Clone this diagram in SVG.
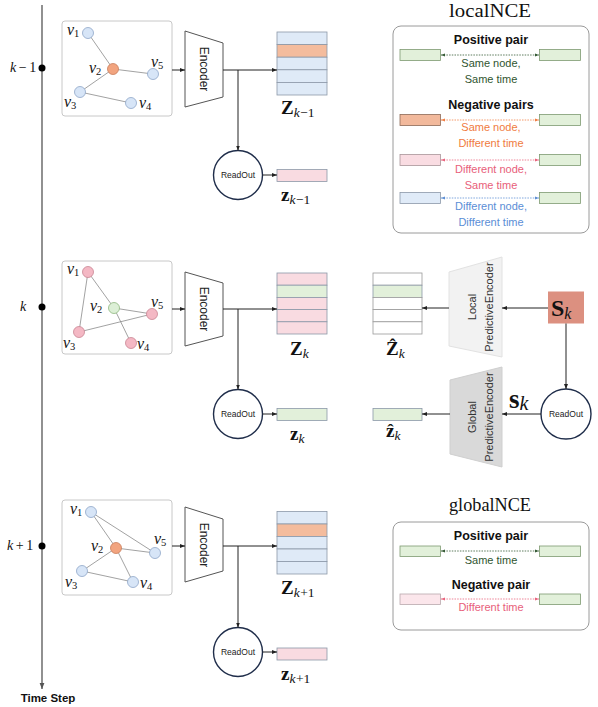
<svg xmlns="http://www.w3.org/2000/svg" width="598" height="707" viewBox="0 0 598 707">
<style>
.bg{fill:#fff}
.gbox{fill:#fff;stroke:#c8c8c8;stroke-width:1}
.edge{stroke:#8a8a8a;stroke-width:0.8;fill:none}
.nb{fill:#d7e5f7;stroke:#8ea6c8;stroke-width:0.8}
.no{fill:#f2a47f;stroke:#c97e5c;stroke-width:0.8}
.np{fill:#f4b8c4;stroke:#c98593;stroke-width:0.8}
.ng{fill:#dcefd6;stroke:#8fb77f;stroke-width:0.8}
.vl{font-family:"Liberation Serif",serif;font-style:italic;font-size:16px;fill:#111}
.vs{font-family:"Liberation Serif",serif;font-size:10.5px;fill:#111}
.enc{fill:#fff;stroke:#555;stroke-width:1}
.sans{font-family:"Liberation Sans",Arial,sans-serif}
.rb{fill:#dfeaf7;stroke:#8c98a8;stroke-width:0.8}
.ro{fill:#f4bc9d;stroke:#8c98a8;stroke-width:0.8}
.rp{fill:#f9dbe1;stroke:#8c98a8;stroke-width:0.8}
.rg{fill:#e2f0da;stroke:#8c98a8;stroke-width:0.8}
.rw{fill:#fff;stroke:#9a9a9a;stroke-width:0.8}
.conn{stroke:#222;stroke-width:1;fill:none}
.ro-c{fill:#fff;stroke:#1f2d4a;stroke-width:1.4}
.mb{font-family:"Liberation Serif",serif;font-weight:bold;fill:#111}
.mi{font-family:"Liberation Serif",serif;font-style:italic;fill:#111}
.ttl{font-family:"Liberation Serif",serif;font-size:18px;fill:#111}
.pb{fill:#e2f0da;stroke:#7e9a70;stroke-width:0.8}
.po{fill:#f2b99c;stroke:#8d6a57;stroke-width:0.8}
.pp{fill:#f9dce2;stroke:#a8959a;stroke-width:0.8}
.pl{fill:#fbe6eb;stroke:#b9a9ad;stroke-width:0.8}
.pbl{fill:#e0ebf8;stroke:#8c98a8;stroke-width:0.8}
.hd{font-family:"Liberation Sans",Arial,sans-serif;font-weight:bold;font-size:12.5px;fill:#111;text-anchor:middle}
.lb{font-family:"Liberation Sans",Arial,sans-serif;font-size:11px;text-anchor:middle}
</style>
<defs>
<marker id="ah" viewBox="0 0 10 10" refX="10" refY="5" markerWidth="5" markerHeight="5" orient="auto-start-reverse"><path d="M0,1 L10,5 L0,9 z" fill="#222"/></marker>
<marker id="ahax" viewBox="0 0 10 10" refX="10" refY="5" markerWidth="5" markerHeight="5" orient="auto"><path d="M0,1 L10,5 L0,9 z" fill="#555"/></marker>
<marker id="mg" viewBox="0 0 10 10" refX="10" refY="5" markerWidth="5" markerHeight="5" orient="auto-start-reverse"><path d="M0,1 L10,5 L0,9 z" fill="#355a35"/></marker>
<marker id="mo" viewBox="0 0 10 10" refX="10" refY="5" markerWidth="5" markerHeight="5" orient="auto-start-reverse"><path d="M0,1 L10,5 L0,9 z" fill="#f07d42"/></marker>
<marker id="mp" viewBox="0 0 10 10" refX="10" refY="5" markerWidth="5" markerHeight="5" orient="auto-start-reverse"><path d="M0,1 L10,5 L0,9 z" fill="#e8637c"/></marker>
<marker id="mbl" viewBox="0 0 10 10" refX="10" refY="5" markerWidth="5" markerHeight="5" orient="auto-start-reverse"><path d="M0,1 L10,5 L0,9 z" fill="#5d8fd4"/></marker>
</defs>
<rect class="bg" x="0" y="0" width="598" height="707"/>

<!-- time axis -->
<g id="time-axis">
<line x1="42" y1="5" x2="42" y2="689" stroke="#555" stroke-width="1.3" marker-end="url(#ahax)"/>
<circle cx="42" cy="68" r="3.5" fill="#000"/>
<circle cx="42" cy="307" r="3.5" fill="#000"/>
<circle cx="42" cy="546" r="3.5" fill="#000"/>
<text class="mi" x="10" y="72" font-size="14">k<tspan font-style="normal" dx="2.5">−</tspan><tspan font-style="normal" dx="2.5">1</tspan></text>
<text class="mi" x="20" y="311" font-size="14">k</text>
<text class="mi" x="7" y="550" font-size="14">k<tspan font-style="normal" dx="2.5">+</tspan><tspan font-style="normal" dx="2.5">1</tspan></text>
<text class="sans" x="48" y="702" font-size="11.5" font-weight="bold" text-anchor="middle" fill="#111">Time Step</text>
</g>

<!-- graph k-1 -->
<g id="graph-top">
<rect class="gbox" x="62" y="21" width="110" height="95" rx="3"/>
<line class="edge" x1="88" y1="33" x2="113" y2="69"/>
<line class="edge" x1="113" y1="69" x2="153" y2="74"/>
<line class="edge" x1="113" y1="69" x2="80" y2="92"/>
<line class="edge" x1="80" y1="92" x2="131" y2="103"/>
<circle class="nb" cx="88" cy="33" r="5.5"/>
<circle class="no" cx="113" cy="69" r="5.5"/>
<circle class="nb" cx="153" cy="74" r="5.5"/>
<circle class="nb" cx="80" cy="92" r="5.5"/>
<circle class="nb" cx="131" cy="103" r="5.5"/>
<text class="vl" x="67" y="35">v<tspan class="vs" font-style="normal" dy="2">1</tspan></text>
<text class="vl" x="89" y="73">v<tspan class="vs" font-style="normal" dy="2">2</tspan></text>
<text class="vl" x="151" y="67">v<tspan class="vs" font-style="normal" dy="2">5</tspan></text>
<text class="vl" x="64" y="107">v<tspan class="vs" font-style="normal" dy="2">3</tspan></text>
<text class="vl" x="139" y="108">v<tspan class="vs" font-style="normal" dy="2">4</tspan></text>
</g>

<!-- graph k -->
<g id="graph-mid">
<rect class="gbox" x="62" y="261" width="110" height="93" rx="3"/>
<line class="edge" x1="88" y1="272" x2="79" y2="332"/>
<line class="edge" x1="88" y1="272" x2="114" y2="308"/>
<line class="edge" x1="114" y1="308" x2="152" y2="314"/>
<line class="edge" x1="114" y1="308" x2="131" y2="343"/>
<line class="edge" x1="79" y1="332" x2="152" y2="314"/>
<circle class="np" cx="88" cy="272" r="5.5"/>
<circle class="ng" cx="114" cy="308" r="5.5"/>
<circle class="np" cx="152" cy="314" r="5.5"/>
<circle class="np" cx="79" cy="332" r="5.5"/>
<circle class="np" cx="131" cy="343" r="5.5"/>
<text class="vl" x="67" y="274">v<tspan class="vs" font-style="normal" dy="2">1</tspan></text>
<text class="vl" x="90" y="311">v<tspan class="vs" font-style="normal" dy="2">2</tspan></text>
<text class="vl" x="151" y="307">v<tspan class="vs" font-style="normal" dy="2">5</tspan></text>
<text class="vl" x="63" y="348">v<tspan class="vs" font-style="normal" dy="2">3</tspan></text>
<text class="vl" x="137" y="349">v<tspan class="vs" font-style="normal" dy="2">4</tspan></text>
</g>

<!-- graph k+1 -->
<g id="graph-bot">
<rect class="gbox" x="62" y="500" width="110" height="95" rx="3"/>
<line class="edge" x1="91" y1="512" x2="116" y2="548"/>
<line class="edge" x1="91" y1="512" x2="155" y2="553"/>
<line class="edge" x1="116" y1="548" x2="155" y2="553"/>
<line class="edge" x1="116" y1="548" x2="82" y2="571"/>
<line class="edge" x1="116" y1="548" x2="133" y2="582"/>
<line class="edge" x1="82" y1="571" x2="133" y2="582"/>
<circle class="nb" cx="91" cy="512" r="5.5"/>
<circle class="no" cx="116" cy="548" r="5.5"/>
<circle class="nb" cx="155" cy="553" r="5.5"/>
<circle class="nb" cx="82" cy="571" r="5.5"/>
<circle class="nb" cx="133" cy="582" r="5.5"/>
<text class="vl" x="70" y="514">v<tspan class="vs" font-style="normal" dy="2">1</tspan></text>
<text class="vl" x="91" y="551">v<tspan class="vs" font-style="normal" dy="2">2</tspan></text>
<text class="vl" x="154" y="544">v<tspan class="vs" font-style="normal" dy="2">5</tspan></text>
<text class="vl" x="65" y="587">v<tspan class="vs" font-style="normal" dy="2">3</tspan></text>
<text class="vl" x="140" y="588">v<tspan class="vs" font-style="normal" dy="2">4</tspan></text>
</g>

<!-- encoders -->
<g id="encoder-top">
<polygon class="enc" points="185,31 223,43 223,97 185,107"/>
<text class="sans" transform="translate(200,69) rotate(90)" font-size="12" text-anchor="middle" fill="#222">Encoder</text>
</g>
<g id="encoder-mid">
<polygon class="enc" points="185,272 223,283 223,336 185,346"/>
<text class="sans" transform="translate(200,309) rotate(90)" font-size="12" text-anchor="middle" fill="#222">Encoder</text>
</g>
<g id="encoder-bot">
<polygon class="enc" points="185,507 223,519 223,571 185,582"/>
<text class="sans" transform="translate(200,545) rotate(90)" font-size="12" text-anchor="middle" fill="#222">Encoder</text>
</g>

<!-- Z matrices -->
<g id="Z-top">
<rect class="rb" x="277" y="32" width="50" height="12.6"/>
<rect class="ro" x="277" y="44.6" width="50" height="12.6"/>
<rect class="rb" x="277" y="57.2" width="50" height="12.6"/>
<rect class="rb" x="277" y="69.8" width="50" height="12.6"/>
<rect class="rb" x="277" y="82.4" width="50" height="12.6"/>
<text class="mb" x="281" y="114" font-size="19">Z<tspan class="mi" font-weight="normal" font-size="13.5" dy="3">k</tspan><tspan font-weight="normal" font-size="13.5" dx="0.5">−1</tspan></text>
</g>
<g id="Z-mid">
<rect class="rp" x="277" y="273" width="50" height="12.2"/>
<rect class="rg" x="277" y="285.2" width="50" height="12.2"/>
<rect class="rp" x="277" y="297.4" width="50" height="12.2"/>
<rect class="rp" x="277" y="309.6" width="50" height="12.2"/>
<rect class="rp" x="277" y="321.8" width="50" height="12.2"/>
<text class="mb" x="290" y="355" font-size="19">Z<tspan class="mi" font-weight="normal" font-size="13.5" dy="3">k</tspan></text>
</g>
<g id="Z-bot">
<rect class="rb" x="277" y="511.5" width="50" height="12.5"/>
<rect class="ro" x="277" y="524" width="50" height="12.5"/>
<rect class="rb" x="277" y="536.5" width="50" height="12.5"/>
<rect class="rb" x="277" y="549" width="50" height="12.5"/>
<rect class="rb" x="277" y="561.5" width="50" height="12.5"/>
<text class="mb" x="281" y="594" font-size="19">Z<tspan class="mi" font-weight="normal" font-size="13.5" dy="3">k</tspan><tspan font-weight="normal" font-size="13.5" dx="0.5">+1</tspan></text>
</g>

<!-- readouts -->
<g id="readout-top">
<circle class="ro-c" cx="238" cy="175" r="24.5"/>
<text class="sans" x="238" y="178" font-size="8.5" text-anchor="middle" fill="#222">ReadOut</text>
</g>
<g id="readout-mid">
<circle class="ro-c" cx="238" cy="414" r="24.5"/>
<text class="sans" x="238" y="417" font-size="8.5" text-anchor="middle" fill="#222">ReadOut</text>
</g>
<g id="readout-bot">
<circle class="ro-c" cx="238" cy="652" r="24.5"/>
<text class="sans" x="238" y="655" font-size="8.5" text-anchor="middle" fill="#222">ReadOut</text>
</g>
<g id="readout-right">
<circle class="ro-c" cx="566" cy="414" r="25"/>
<text class="sans" x="566" y="417" font-size="8.5" text-anchor="middle" fill="#222">ReadOut</text>
</g>

<!-- graph-level vectors -->
<g id="zvec-top">
<rect class="rp" x="277" y="169.5" width="50" height="12"/>
<text class="mb" x="281" y="201" font-size="19">z<tspan class="mi" font-weight="normal" font-size="13.5" dy="3">k</tspan><tspan font-weight="normal" font-size="13.5" dx="0.5">−1</tspan></text>
</g>
<g id="zvec-mid">
<rect class="rg" x="277" y="408.5" width="50" height="12"/>
<text class="mb" x="290" y="440" font-size="19">z<tspan class="mi" font-weight="normal" font-size="13.5" dy="3">k</tspan></text>
</g>
<g id="zvec-bot">
<rect class="rp" x="277" y="648" width="50" height="12"/>
<text class="mb" x="281" y="680" font-size="19">z<tspan class="mi" font-weight="normal" font-size="13.5" dy="3">k</tspan><tspan font-weight="normal" font-size="13.5" dx="0.5">+1</tspan></text>
</g>

<!-- predictive part -->
<g id="Zhat">
<rect class="rw" x="373" y="273" width="49" height="12.2"/>
<rect class="rg" x="373" y="285.2" width="49" height="12.2"/>
<rect class="rw" x="373" y="297.4" width="49" height="12.2"/>
<rect class="rw" x="373" y="309.6" width="49" height="12.2"/>
<rect class="rw" x="373" y="321.8" width="49" height="12.2"/>
<text class="mb" x="386" y="355" font-size="19">Ẑ<tspan class="mi" font-weight="normal" font-size="13.5" dy="3">k</tspan></text>
</g>
<g id="zhat">
<rect class="rg" x="373" y="408.5" width="49" height="12"/>
<text class="mb" x="386" y="437" font-size="19">ẑ<tspan class="mi" font-weight="normal" font-size="13.5" dy="3">k</tspan></text>
</g>
<g id="local-pred-encoder">
<polygon points="449,272 502,257 502,357 449,346" fill="#f2f2f2" stroke="#e2e2e2" stroke-width="1"/>
<text class="sans" transform="translate(476,307) rotate(-90)" font-size="11" text-anchor="middle" fill="#333">Local</text>
<text class="sans" transform="translate(493,307) rotate(-90)" font-size="11" text-anchor="middle" fill="#333">PredictiveEncoder</text>
</g>
<g id="global-pred-encoder">
<polygon points="450,380 502,367 502,467 450,454" fill="#d9d9d9" stroke="#cfcfcf" stroke-width="1"/>
<text class="sans" transform="translate(476,417) rotate(-90)" font-size="11" text-anchor="middle" fill="#333">Global</text>
<text class="sans" transform="translate(493,417) rotate(-90)" font-size="11" text-anchor="middle" fill="#333">PredictiveEncoder</text>
</g>
<g id="S-k">
<rect x="548" y="291.5" width="36" height="32" fill="#dc9080"/>
<text class="mb" x="551" y="316" font-size="24">S<tspan class="mi" font-weight="normal" font-size="16" dy="3">k</tspan></text>
</g>
<g id="s-k-label">
<text class="mb" x="509" y="408" font-size="27">s<tspan class="mi" font-weight="normal" font-size="20" dy="2">k</tspan></text>
</g>

<!-- connectors -->
<g id="connectors">
<line class="conn" x1="172" y1="70" x2="185" y2="70" marker-end="url(#ah)"/>
<line class="conn" x1="223" y1="70" x2="277" y2="70" marker-end="url(#ah)"/>
<line class="conn" x1="238" y1="70" x2="238" y2="150.5" marker-end="url(#ah)"/>
<line class="conn" x1="262.5" y1="175" x2="277" y2="175" marker-end="url(#ah)"/>

<line class="conn" x1="172" y1="309" x2="185" y2="309" marker-end="url(#ah)"/>
<line class="conn" x1="223" y1="309" x2="277" y2="309" marker-end="url(#ah)"/>
<line class="conn" x1="238" y1="309" x2="238" y2="389.5" marker-end="url(#ah)"/>
<line class="conn" x1="262.5" y1="414" x2="277" y2="414" marker-end="url(#ah)"/>

<line class="conn" x1="172" y1="546" x2="185" y2="546" marker-end="url(#ah)"/>
<line class="conn" x1="223" y1="546" x2="277" y2="546" marker-end="url(#ah)"/>
<line class="conn" x1="238" y1="546" x2="238" y2="627.5" marker-end="url(#ah)"/>
<line class="conn" x1="262.5" y1="652" x2="277" y2="652" marker-end="url(#ah)"/>

<line class="conn" x1="548" y1="308" x2="502" y2="308" marker-end="url(#ah)"/>
<line class="conn" x1="449" y1="308" x2="422" y2="308" marker-end="url(#ah)"/>
<line class="conn" x1="566" y1="323.5" x2="566" y2="389" marker-end="url(#ah)"/>
<line class="conn" x1="541" y1="414" x2="502" y2="414" marker-end="url(#ah)"/>
<line class="conn" x1="450" y1="414" x2="422" y2="414" marker-end="url(#ah)"/>
</g>

<!-- localNCE -->
<g id="localNCE">
<text class="ttl" x="490" y="17" text-anchor="middle" textLength="82" lengthAdjust="spacingAndGlyphs">localNCE</text>
<rect x="393" y="26" width="196" height="207" rx="8" fill="#fff" stroke="#9a9a9a" stroke-width="1"/>
<text class="hd" x="491" y="44">Positive pair</text>
<rect class="pb" x="400" y="49.5" width="40.5" height="11"/>
<rect class="pb" x="539.5" y="49.5" width="41" height="11"/>
<line x1="441" y1="55" x2="539" y2="55" stroke="#355a35" stroke-width="0.8" stroke-dasharray="1.5 1.2" marker-start="url(#mg)" marker-end="url(#mg)"/>
<text class="lb" x="491" y="67" fill="#2f552f">Same node,</text>
<text class="lb" x="491" y="83" fill="#2f552f">Same time</text>

<text class="hd" x="491" y="108.5">Negative pairs</text>
<rect class="po" x="400" y="114.5" width="40.5" height="11"/>
<rect class="pb" x="539.5" y="114.5" width="41" height="11"/>
<line x1="441" y1="120" x2="539" y2="120" stroke="#f07d42" stroke-width="0.8" stroke-dasharray="1.5 1.2" marker-start="url(#mo)" marker-end="url(#mo)"/>
<text class="lb" x="491" y="131" fill="#f07b3e">Same node,</text>
<text class="lb" x="491" y="147" fill="#f07b3e">Different time</text>

<rect class="pp" x="400" y="154.5" width="40.5" height="11"/>
<rect class="pb" x="539.5" y="154.5" width="41" height="11"/>
<line x1="441" y1="160" x2="539" y2="160" stroke="#e8637c" stroke-width="0.8" stroke-dasharray="1.5 1.2" marker-start="url(#mp)" marker-end="url(#mp)"/>
<text class="lb" x="491" y="173" fill="#e8607a">Different node,</text>
<text class="lb" x="491" y="189" fill="#e8607a">Same time</text>

<rect class="pbl" x="400" y="192.5" width="40.5" height="11"/>
<rect class="pb" x="539.5" y="192.5" width="41" height="11"/>
<line x1="441" y1="198" x2="539" y2="198" stroke="#5d8fd4" stroke-width="0.8" stroke-dasharray="1.5 1.2" marker-start="url(#mbl)" marker-end="url(#mbl)"/>
<text class="lb" x="491" y="209.5" fill="#5b8ed6">Different node,</text>
<text class="lb" x="491" y="225.5" fill="#5b8ed6">Different time</text>
</g>

<!-- globalNCE -->
<g id="globalNCE">
<text class="ttl" x="490" y="511" text-anchor="middle" textLength="82" lengthAdjust="spacingAndGlyphs">globalNCE</text>
<rect x="393" y="522" width="196" height="108" rx="8" fill="#fff" stroke="#9a9a9a" stroke-width="1"/>
<text class="hd" x="491" y="539.5">Positive pair</text>
<rect class="pb" x="400" y="546" width="40.5" height="10.5"/>
<rect class="pb" x="539.5" y="546" width="41" height="10.5"/>
<line x1="441" y1="551" x2="539" y2="551" stroke="#355a35" stroke-width="0.8" stroke-dasharray="1.5 1.2" marker-start="url(#mg)" marker-end="url(#mg)"/>
<text class="lb" x="491" y="563.5" fill="#2f552f">Same time</text>
<text class="hd" x="491" y="588.5">Negative pair</text>
<rect class="pl" x="400" y="594" width="40.5" height="10.5"/>
<rect class="pb" x="539.5" y="594" width="41" height="10.5"/>
<line x1="441" y1="599" x2="539" y2="599" stroke="#e8637c" stroke-width="0.8" stroke-dasharray="1.5 1.2" marker-start="url(#mp)" marker-end="url(#mp)"/>
<text class="lb" x="491" y="611" fill="#e8607a">Different time</text>
</g>
</svg>
